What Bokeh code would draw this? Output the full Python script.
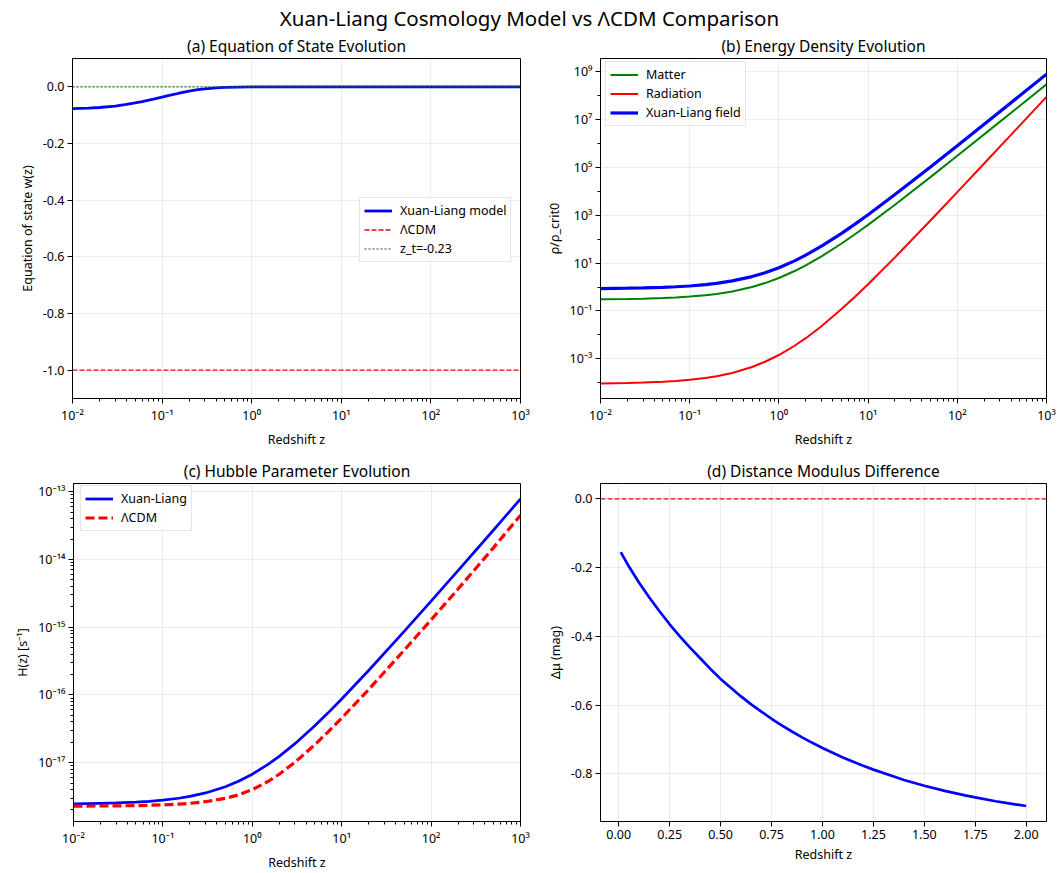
from bokeh.plotting import figure
from bokeh.layouts import column, row
from bokeh.models import (Range1d, FixedTicker, CustomJSTickFormatter, PrintfTickFormatter,
                          Legend, LegendItem, Span)
from bokeh.core.properties import value
from bokeh.embed import file_html
from bokeh.resources import INLINE

FONT = "Noto Sans"

# ---------------- data ----------------
Z = [0.01, 0.02, 0.03, 0.05, 0.07, 0.1, 0.15, 0.2, 0.3, 0.5, 0.7, 1.0, 1.5, 2.0,
     3.0, 5.0, 7.0, 10.0, 20.0, 50.0, 100.0, 200.0, 500.0, 1000.0]

Z_W = [0.01, 0.015, 0.02, 0.03, 0.04, 0.05, 0.06, 0.08, 0.1, 0.12, 0.15, 0.2, 0.25, 0.3,
       0.4, 0.5, 0.7, 1.0, 2.0, 10.0, 100.0, 1000.0]
W_XL = [-0.077, -0.075, -0.073, -0.068, -0.062, -0.057, -0.052, -0.043, -0.036, -0.0305,
        -0.0235, -0.015, -0.010, -0.007, -0.0035, -0.002, -0.0007, -0.0002, 0.0, 0.0, 0.0, 0.0]
W_LCDM = [-1.0] * len(Z_W)
Z_T = -0.23
W_SPAN = [-1.1, 0.1]

RHO_M = [0.309, 0.318, 0.328, 0.347, 0.368, 0.399, 0.456, 0.518, 0.659, 1.01, 1.47, 2.40,
         4.69, 8.10, 19.2, 64.8, 154.0, 399.0, 2778.0, 3.98e4, 3.09e5, 2.44e6, 3.77e7, 3.01e8]
RHO_R = [9.37e-5, 9.74e-5, 1.013e-4, 1.09e-4, 1.18e-4, 1.32e-4, 1.57e-4, 1.87e-4, 2.57e-4,
         4.56e-4, 7.52e-4, 1.44e-3, 3.52e-3, 7.29e-3, 2.30e-2, 0.117, 0.369, 1.32, 17.5,
         609.0, 9.38e3, 1.47e5, 5.66e6, 9.04e7]
RHO_XL = [0.87, 0.90, 0.924, 0.98, 1.03, 1.11, 1.267, 1.43, 1.81, 2.75, 3.98, 6.45, 12.5,
          21.7, 51.3, 173.0, 410.0, 1065.0, 7410.0, 1.06e5, 8.24e5, 6.5e6, 1.0e8, 8.0e8]

H_XL = [2.46e-18, 2.51e-18, 2.54e-18, 2.61e-18, 2.684e-18, 2.79e-18, 2.98e-18, 3.17e-18,
        3.57e-18, 4.40e-18, 5.30e-18, 6.75e-18, 9.41e-18, 1.239e-17, 1.906e-17, 3.50e-17,
        5.39e-17, 8.69e-17, 2.29e-16, 8.69e-16, 2.43e-15, 6.84e-15, 2.72e-14, 7.83e-14]
H_LCDM = [2.28e-18, 2.29e-18, 2.30e-18, 2.32e-18, 2.346e-18, 2.38e-18, 2.441e-18, 2.51e-18,
          2.65e-18, 2.97e-18, 3.34e-18, 4.00e-18, 5.27e-18, 6.74e-18, 1.013e-17, 1.839e-17,
          2.826e-17, 4.546e-17, 1.200e-16, 4.563e-16, 1.281e-15, 3.651e-15, 1.495e-14, 4.491e-14]

Z_MU = [0.01, 0.05, 0.1, 0.15, 0.2, 0.25, 0.3, 0.35, 0.4, 0.45, 0.5, 0.55, 0.6, 0.65, 0.7,
        0.75, 0.8, 0.85, 0.9, 0.95, 1.0, 1.1, 1.2, 1.25, 1.35, 1.4, 1.5, 1.6, 1.7, 1.75,
        1.85, 1.9, 2.0]
DMU = [-0.155, -0.197, -0.244, -0.287, -0.327, -0.365, -0.400, -0.433, -0.464, -0.495,
       -0.524, -0.550, -0.575, -0.598, -0.619, -0.640, -0.659, -0.677, -0.694, -0.710,
       -0.725, -0.753, -0.777, -0.788, -0.808, -0.818, -0.835, -0.850, -0.863, -0.869,
       -0.880, -0.885, -0.894]

SUPTITLE = "Xuan-Liang Cosmology Model vs \u039bCDM Comparison"
TITLES = ["(a) Equation of State Evolution", "(b) Energy Density Evolution",
          "(c) Hubble Parameter Evolution", "(d) Distance Modulus Difference"]
XLABEL = "Redshift z"
YLABELS = ["Equation of state w(z)", "\u03c1/\u03c1_crit0", "H(z) [s\u207b\u00b9]", "\u0394\u03bc (mag)"]
LEGEND_A = ["Xuan-Liang model", "\u039bCDM", "z_t=-0.23"]
LEGEND_B = ["Matter", "Radiation", "Xuan-Liang field"]
LEGEND_C = ["Xuan-Liang", "\u039bCDM"]

X_DECADES = [10.0 ** e for e in range(-2, 4)]
X_MINOR = [m * 10.0 ** e for e in range(-2, 3) for m in range(2, 10)]
YB_MAJOR = [10.0 ** e for e in range(-3, 10, 2)]
YB_MINOR = [10.0 ** e for e in range(-4, 10, 2)]
YC_MAJOR = [10.0 ** e for e in range(-17, -12)]
YC_MINOR = [m * 10.0 ** e for e in range(-18, -13) for m in range(2, 10)]
YA_TICKS = [-1.0, -0.8, -0.6, -0.4, -0.2, 0.0]
XD_TICKS = [0.0, 0.25, 0.5, 0.75, 1.0, 1.25, 1.5, 1.75, 2.0]
YD_TICKS = [-0.8, -0.6, -0.4, -0.2, 0.0]

LOG_FMT = CustomJSTickFormatter(code="""
const sup = {"0":"\u2070","1":"\u00b9","2":"\u00b2","3":"\u00b3","4":"\u2074","5":"\u2075",
             "6":"\u2076","7":"\u2077","8":"\u2078","9":"\u2079","-":"\u207b"};
const e = Math.round(Math.log10(tick));
let s = "";
for (const c of String(e)) { s += sup[c]; }
return "10" + s;
""")


def make_fig(title, w, h, xr, yr, xtype="linear", ytype="linear", top=27, bottom=45):
    p = figure(width=w, height=h, x_range=xr, y_range=yr, x_axis_type=xtype, y_axis_type=ytype,
               title=title, toolbar_location=None, output_backend="svg",
               min_border_left=72 if w == 532 else 68, min_border_right=12,
               min_border_top=top, min_border_bottom=bottom)
    p.title.align = "center"
    p.title.text_font = FONT
    p.title.text_font_size = "15.5px"
    p.title.text_font_style = "normal"
    p.title.text_color = "black"
    p.title.standoff = 3
    p.outline_line_color = "black"
    p.outline_line_alpha = 1.0
    p.outline_line_width = 1
    p.background_fill_color = "white"
    p.border_fill_color = "white"
    for ax in p.axis:
        ax.axis_line_color = "black"
        ax.major_tick_line_color = "black"
        ax.minor_tick_line_color = "black"
        ax.major_tick_out = 5
        ax.major_tick_in = 0
        ax.minor_tick_out = 3
        ax.minor_tick_in = 0
        ax.major_label_text_font = FONT
        ax.major_label_text_font_size = "12.5px"
        ax.major_label_text_color = "black"
        ax.axis_label_text_font = FONT
        ax.axis_label_text_font_size = "12.5px"
        ax.axis_label_text_font_style = "normal"
        ax.axis_label_text_color = "black"
        ax.major_label_standoff = 3
        ax.axis_label_standoff = 4
    p.grid.grid_line_color = "#b0b0b0"
    p.grid.grid_line_alpha = 0.3
    p.grid.grid_line_width = 0.8
    p.xaxis.axis_label = XLABEL
    return p


def style_legend(leg, x, y):
    leg.location = (x, y)
    leg.margin = 0
    leg.padding = 4
    leg.spacing = 2
    leg.glyph_width = 28
    leg.glyph_height = 15
    leg.label_height = 15
    leg.label_standoff = 8
    leg.label_text_font = FONT
    leg.label_text_font_size = "12.5px"
    leg.label_text_color = "black"
    leg.border_line_color = "#cccccc"
    leg.border_line_width = 1
    leg.background_fill_color = "white"
    leg.background_fill_alpha = 0.8


# ---------------- suptitle ----------------
p0 = figure(width=1058, height=31, x_range=Range1d(0, 1058), y_range=Range1d(0, 31),
            min_border=0, toolbar_location=None, output_backend="svg",
            x_axis_location=None, y_axis_location=None, outline_line_color=None)
p0.grid.visible = False
p0.text(x=[529], y=[13.5], text=[SUPTITLE], text_align="center", text_baseline="middle",
        text_font=value(FONT), text_font_size="20.5px", text_color="black")

# ---------------- (a) ----------------
p1 = make_fig(TITLES[0], 532, 419, Range1d(0.01, 1000), Range1d(-1.1, 0.1), xtype="log")
p1.xaxis.ticker = FixedTicker(ticks=X_DECADES, minor_ticks=X_MINOR)
p1.xaxis.formatter = LOG_FMT
p1.yaxis.ticker = FixedTicker(ticks=YA_TICKS)
p1.yaxis.formatter = PrintfTickFormatter(format="%.1f")
p1.yaxis.axis_label = YLABELS[0]
p1.add_layout(Span(location=0.0, dimension="width", line_color="green", line_width=1.4,
                   line_dash="2 2"))
ra1 = p1.line(Z_W, W_XL, line_color="#0000ff", line_width=2.8)
ra2 = p1.line(Z_W, W_LCDM, line_color="#ff0000", line_width=1.3, line_dash="5 2")
ra3 = p1.line([Z_T, Z_T], W_SPAN, line_color="black", line_alpha=0.5, line_width=1.3,
              line_dash="2 2")
lega = Legend(items=[LegendItem(label=LEGEND_A[0], renderers=[ra1]),
                     LegendItem(label=LEGEND_A[1], renderers=[ra2]),
                     LegendItem(label=LEGEND_A[2], renderers=[ra3])])
style_legend(lega, 287, 136)
p1.add_layout(lega)

# ---------------- (b) ----------------
p2 = make_fig(TITLES[1], 526, 419, Range1d(0.01, 1000), Range1d(10 ** -4.66, 10 ** 9.56),
              xtype="log", ytype="log")
p2.xaxis.ticker = FixedTicker(ticks=X_DECADES, minor_ticks=X_MINOR)
p2.xaxis.formatter = LOG_FMT
p2.yaxis.ticker = FixedTicker(ticks=YB_MAJOR, minor_ticks=YB_MINOR)
p2.yaxis.formatter = LOG_FMT
p2.yaxis.axis_label = YLABELS[1]
rb1 = p2.line(Z, RHO_M, line_color="#008000", line_width=2.0)
rb2 = p2.line(Z, RHO_R, line_color="#ff0000", line_width=2.0)
rb3 = p2.line(Z, RHO_XL, line_color="#0000ff", line_width=3.2)
legb = Legend(items=[LegendItem(label=LEGEND_B[0], renderers=[rb1]),
                     LegendItem(label=LEGEND_B[1], renderers=[rb2]),
                     LegendItem(label=LEGEND_B[2], renderers=[rb3])])
style_legend(legb, 5, 272)
p2.add_layout(legb)

# ---------------- (c) ----------------
p3 = make_fig(TITLES[2], 532, 423, Range1d(0.01, 1000), Range1d(10 ** -17.869, 10 ** -12.879),
              xtype="log", ytype="log", top=33, bottom=43)
p3.min_border_left = 73
p3.xaxis.ticker = FixedTicker(ticks=X_DECADES, minor_ticks=X_MINOR)
p3.xaxis.formatter = LOG_FMT
p3.yaxis.ticker = FixedTicker(ticks=YC_MAJOR, minor_ticks=YC_MINOR)
p3.yaxis.formatter = LOG_FMT
p3.yaxis.axis_label = YLABELS[2]
rc1 = p3.line(Z, H_XL, line_color="#0000ff", line_width=2.7)
rc2 = p3.line(Z, H_LCDM, line_color="#ff0000", line_width=3.2, line_dash="9 4")
legc = Legend(items=[LegendItem(label=LEGEND_C[0], renderers=[rc1]),
                     LegendItem(label=LEGEND_C[1], renderers=[rc2])])
style_legend(legc, 7, 290)
p3.add_layout(legc)

# ---------------- (d) ----------------
p4 = make_fig(TITLES[3], 526, 423, Range1d(-0.0895, 2.0995), Range1d(-0.939, 0.0447),
              top=33, bottom=43)
p4.xaxis.ticker = FixedTicker(ticks=XD_TICKS)
p4.xaxis.formatter = PrintfTickFormatter(format="%.2f")
p4.yaxis.ticker = FixedTicker(ticks=YD_TICKS)
p4.yaxis.formatter = PrintfTickFormatter(format="%.1f")
p4.yaxis.axis_label = YLABELS[3]
p4.add_layout(Span(location=0.0, dimension="width", line_color="#ff0000", line_width=1.3,
                   line_dash="5 2"))
p4.line(Z_MU, DMU, line_color="#0000ff", line_width=2.7)

layout = column(p0, row(p1, p2), row(p3, p4))
open("out.html", "w").write(file_html(layout, INLINE))
